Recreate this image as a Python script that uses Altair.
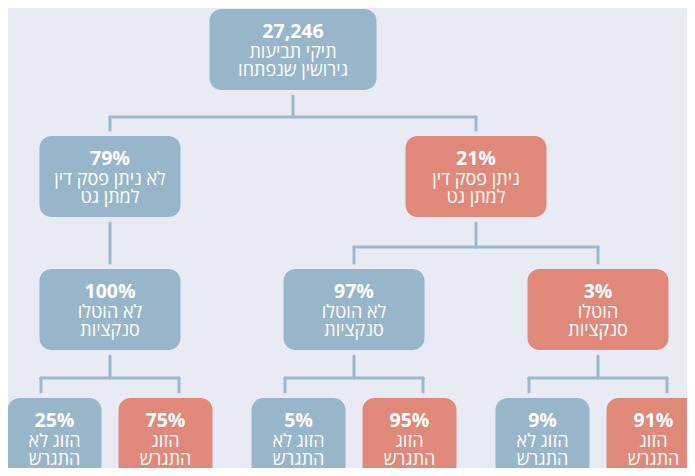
import altair as alt
import pandas as pd

# ---------------- data ----------------
node_value = ["27,246", "79%", "21%", "100%", "97%", "3%",
              "25%", "75%", "5%", "95%", "9%", "91%"]
node_line1 = ["תיקי תביעות", "לא ניתן פסק דין", "ניתן פסק דין",
              "לא הוטלו", "לא הוטלו", "הוטלו",
              "הזוג לא", "הזוג", "הזוג לא", "הזוג", "הזוג לא", "הזוג"]
node_line2 = ["גירושין שנפתחו", "למתן גט", "למתן גט",
              "סנקציות", "סנקציות", "סנקציות",
              "התגרש", "התגרש", "התגרש", "התגרש", "התגרש", "התגרש"]
node_kind = ["base", "no", "yes", "no", "no", "yes",
             "no", "yes", "no", "yes", "no", "yes"]
node_parent = [-1, 0, 0, 1, 2, 2, 3, 3, 4, 4, 5, 5]
node_level = [0, 1, 1, 2, 2, 2, 3, 3, 3, 3, 3, 3]

# ---------------- layout (styles / geometry) ----------------
BG = "#e8ebf3"
BLUE = "#97b6ca"
RED = "#e0897a"
LINE = "#9bb9cd"
FONT = "Open Sans"

level_top = [9, 136, 269, 398]
level_width = [167, 141, 141, 94]
box_h = 81
bar_offset = [27, 30, 28]
col0, col_pitch = 110, 244
leaf_half = 55.5
leaf_drop = 69

n = len(node_value)
children = {i: [j for j in range(n) if node_parent[j] == i] for i in range(n)}

cx = [None] * n
lvl2 = [i for i in range(n) if node_level[i] == 2]
for k, i in enumerate(lvl2):
    cx[i] = col0 + col_pitch * k
for i in lvl2:
    for k, j in enumerate(children[i]):
        cx[j] = cx[i] + (-leaf_half if k == 0 else leaf_half)
for lvl in (1, 0):
    for i in range(n):
        if node_level[i] == lvl:
            cs = [cx[j] for j in children[i]]
            cx[i] = sum(cs) / len(cs)

boxes, texts_b, texts_r = [], [], []
for i in range(n):
    lv = node_level[i]
    top = level_top[lv]
    bottom = top + box_h + (14 if lv == 3 else 0)
    w = level_width[lv]
    boxes.append(dict(x=cx[i] - w / 2, x2=cx[i] + w / 2, y=top, y2=bottom,
                      kind=node_kind[i]))
    texts_b.append(dict(x=cx[i], y=top + 23, t=node_value[i]))
    texts_r.append(dict(x=cx[i], y=top + 43.5, t=node_line1[i]))
    texts_r.append(dict(x=cx[i], y=top + 62, t=node_line2[i]))

edges = []
for i in range(n):
    ch = children[i]
    if not ch:
        continue
    lv = node_level[i]
    bottom = level_top[lv] + box_h
    ctop = level_top[lv + 1]
    if len(ch) == 1:
        edges.append(dict(x=cx[i], x2=cx[i], y=bottom + 6, y2=ctop - 6))
        continue
    bar = bottom + bar_offset[lv]
    edges.append(dict(x=cx[i], x2=cx[i], y=bottom + 6, y2=bar))
    if lv == 2:
        drops = [cx[i] - leaf_drop, cx[i] + leaf_drop]
    else:
        drops = [cx[j] for j in ch]
    edges.append(dict(x=min(drops), x2=max(drops), y=bar, y2=bar))
    for d in drops:
        edges.append(dict(x=d, x2=d, y=bar, y2=ctop - 6))

# chart occupies page pixels 8..687 x 8..468 (8px page margin)
xs = alt.Scale(domain=[8, 687])
ys = alt.Scale(domain=[8, 468], reverse=True)

box_df = pd.DataFrame(boxes)
edge_df = pd.DataFrame(edges)
tb_df = pd.DataFrame(texts_b)
tr_df = pd.DataFrame(texts_r)

rects = alt.Chart(box_df).mark_rect(cornerRadius=12, clip=True).encode(
    x=alt.X("x:Q", scale=xs, axis=None),
    x2="x2:Q",
    y=alt.Y("y:Q", scale=ys, axis=None),
    y2="y2:Q",
    color=alt.Color("kind:N",
                    scale=alt.Scale(domain=["base", "no", "yes"],
                                    range=[BLUE, BLUE, RED]),
                    legend=None),
)

rules = alt.Chart(edge_df).mark_rule(color=LINE, strokeWidth=3,
                                     strokeCap="round").encode(
    x=alt.X("x:Q", scale=xs, axis=None),
    x2="x2:Q",
    y=alt.Y("y:Q", scale=ys, axis=None),
    y2="y2:Q",
)

bold = alt.Chart(tb_df).mark_text(font=FONT, fontSize=19.5, fontWeight="bold",
                                  color="white", align="center",
                                  baseline="middle").encode(
    x=alt.X("x:Q", scale=xs, axis=None),
    y=alt.Y("y:Q", scale=ys, axis=None),
    text="t:N",
)

reg = alt.Chart(tr_df).mark_text(font=FONT, fontSize=18, color="white",
                                 align="center", baseline="middle").encode(
    x=alt.X("x:Q", scale=xs, axis=None),
    y=alt.Y("y:Q", scale=ys, axis=None),
    text="t:N",
)

chart = alt.layer(rules, rects, bold, reg).properties(
    width=679, height=460, padding=0, background=BG,
    autosize=alt.AutoSizeParams(type="none"),
).configure_view(stroke=None, fill=BG)

chart.save("out.html", embed_options={"renderer": "svg", "actions": False})
